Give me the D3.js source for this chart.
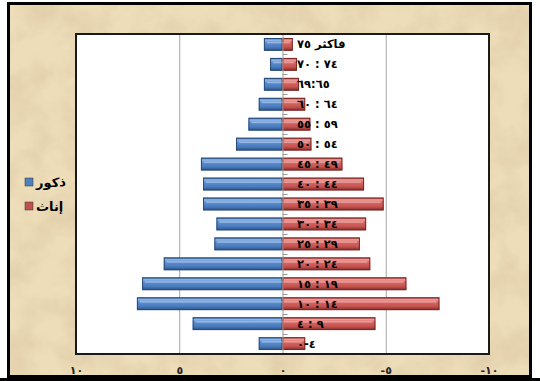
<!DOCTYPE html>
<html><head><meta charset="utf-8">
<script src="https://cdn.jsdelivr.net/npm/d3@7/dist/d3.min.js"></script>
<style>body{margin:0;background:#fff}svg{display:block}</style>
</head><body>
<script>
// Data
const categories = ["\u200E٧٥\u200E فاكثر","٧٠ : ٧٤","٦٩:٦٥","٦٠ : ٦٤","٥٥ : ٥٩","٥٠ : ٥٤","٤٥ : ٤٩","٤٠ : ٤٤","٣٥ : ٣٩","٣٠ : ٣٤","٢٥ : ٢٩","٢٠ : ٢٤","١٥ : ١٩","١٠ : ١٤","٤ : ٩","٠-٤"];
const males   = [0.9,0.6,0.9,1.15,1.65,2.25,3.95,3.85,3.85,3.2,3.3,5.75,6.8,7.05,4.35,1.15];
const females = [0.5,0.7,0.8,1.1,1.35,1.4,2.9,3.95,4.9,4.05,3.75,4.25,6.0,7.6,4.5,1.1];
const tickValues = [10,5,0,-5,-10];
const seriesNames = ["ذكور","إناث"];
const seriesColors = ["#4f81bd","#c0504d"];

const W=540,H=381;
const svg=d3.select("body").append("svg").attr("width",W).attr("height",H);
const defs=svg.append("defs");
// parchment texture
const f=defs.append("filter").attr("id","paper").attr("x",0).attr("y",0).attr("width","100%").attr("height","100%");
f.append("feTurbulence").attr("type","fractalNoise").attr("baseFrequency","0.03").attr("numOctaves",5).attr("seed",11).attr("result","n");
f.append("feColorMatrix").attr("in","n").attr("type","matrix")
 .attr("values","0 0 0 0 0.74  0 0 0 0 0.60  0 0 0 0 0.40  -1.6 0 0 0 1.05").attr("result","c");
f.append("feComposite").attr("in","c").attr("in2","SourceGraphic").attr("operator","in");

function grad(id,stops){
  const g=defs.append("linearGradient").attr("id",id).attr("x1",0).attr("y1",0).attr("x2",0).attr("y2",1);
  stops.forEach(s=>g.append("stop").attr("offset",s[0]).attr("stop-color",s[1]));
}
grad("gb",[[0,"#3f6ea8"],[0.18,"#8fb8ea"],[0.35,"#5d8fd0"],[0.7,"#4a7cbd"],[1,"#2d5184"]]);
grad("gr",[[0,"#a84240"],[0.18,"#f0a09d"],[0.35,"#d96663"],[0.7,"#c65451"],[1,"#7e2b29"]]);

// background + frame
svg.append("rect").attr("x",8).attr("y",3).attr("width",523).attr("height",374).attr("fill","#edddb8");
svg.append("rect").attr("x",8).attr("y",3).attr("width",523).attr("height",374).attr("fill","#edddb8").attr("filter","url(#paper)");
svg.append("rect").attr("x",8.5).attr("y",3.5).attr("width",522).attr("height",373).attr("fill","none").attr("stroke","#000").attr("stroke-width",3);
svg.append("rect").attr("x",0).attr("y",378).attr("width",W).attr("height",3).attr("fill","#000");

const L=76,R=489,T=34,B=354;
const x=d3.scaleLinear().domain([10,-10]).range([L,R]);
const y=d3.scaleBand().domain(categories).range([T,B]).paddingInner(0.36).paddingOuter(0.2);

svg.append("rect").attr("x",L).attr("y",T).attr("width",R-L).attr("height",B-T).attr("fill","#fff");

// gridlines
svg.append("g").selectAll("line").data(tickValues.filter(v=>v!==0&&Math.abs(v)!==10)).join("line")
 .attr("x1",d=>x(d)+0.5).attr("x2",d=>x(d)+0.5).attr("y1",T).attr("y2",B).attr("stroke","#a6a6a6");

const toAr=s=>String(s).replace(/\d/g,d=>"٠١٢٣٤٥٦٧٨٩"[d]);

function bars(vals,sign,gid,edge){
  const g=svg.append("g");
  vals.forEach((v,i)=>{
    const x0=x(0), x1=x(sign*v);
    const xl=Math.min(x0,x1), w=Math.abs(x1-x0);
    const yy=y(categories[i]), h=y.bandwidth();
    g.append("rect").attr("x",xl).attr("y",yy).attr("width",w).attr("height",h).attr("fill",`url(#${gid})`);
    g.append("rect").attr("x",xl+0.5).attr("y",yy+0.5).attr("width",Math.max(0,w-1)).attr("height",h-1).attr("fill","none").attr("stroke",edge).attr("stroke-width",1);
    const inset=3;
    const hx = sign>0 ? xl+inset : xl;
    g.append("rect").attr("x",hx).attr("y",yy+h*0.3).attr("width",Math.max(0,w-inset)).attr("height",1.5).attr("fill","#fff").attr("opacity",0.35);
  });
}
bars(males,1,"gb","#2a4a78");
bars(females,-1,"gr","#7a2826");

// zero axis line with ticks
const ax=svg.append("g");
ax.append("line").attr("x1",x(0)+0.5).attr("x2",x(0)+0.5).attr("y1",T).attr("y2",B).attr("stroke","#9a9a9a");
d3.range(categories.length+1).forEach(i=>{
  const yy=T+i*(B-T)/categories.length;
  ax.append("line").attr("x1",x(0)).attr("x2",x(0)+5).attr("y1",yy+0.5).attr("y2",yy+0.5).attr("stroke","#9a9a9a");
});

// plot border
svg.append("rect").attr("x",L).attr("y",T).attr("width",R-L).attr("height",B-T).attr("fill","none").attr("stroke","#1a1a1a").attr("stroke-width",2);

// category labels
svg.append("g").selectAll("text").data(categories).join("text")
 .attr("x",297).attr("y",d=>y(d)+y.bandwidth()/2+4)
 .attr("font-family","DejaVu Sans, sans-serif").attr("font-weight","bold").attr("font-size",11.5)
 .attr("fill","#000")
 .attr("direction","ltr")
 .attr("unicode-bidi",(d,i)=>i===0?"normal":"bidi-override")
 .text(d=>d);

// bottom axis
const xa=d3.axisBottom(x).tickValues(tickValues).tickSize(0).tickPadding(3).tickFormat(d=>toAr(d));
const gx=svg.append("g").attr("transform",`translate(0,${B+9})`).call(xa);
gx.select(".domain").remove();
gx.selectAll("text").attr("font-family","DejaVu Sans, sans-serif").attr("font-weight","bold").attr("font-size",11).attr("fill","#222")
 .attr("direction","ltr").attr("unicode-bidi","bidi-override");

// legend
const lg=svg.append("g");
[182,206].forEach((yy,i)=>{
  lg.append("rect").attr("x",25).attr("y",yy-4).attr("width",8).attr("height",8).attr("fill",seriesColors[i]).attr("stroke","#333").attr("stroke-width",0.5);
  lg.append("text").attr("x",36).attr("y",yy+4.5).attr("font-family","DejaVu Sans, sans-serif").attr("font-weight","bold").attr("font-size",13).attr("fill","#000").text(seriesNames[i]);
});
</script>
</body></html>
